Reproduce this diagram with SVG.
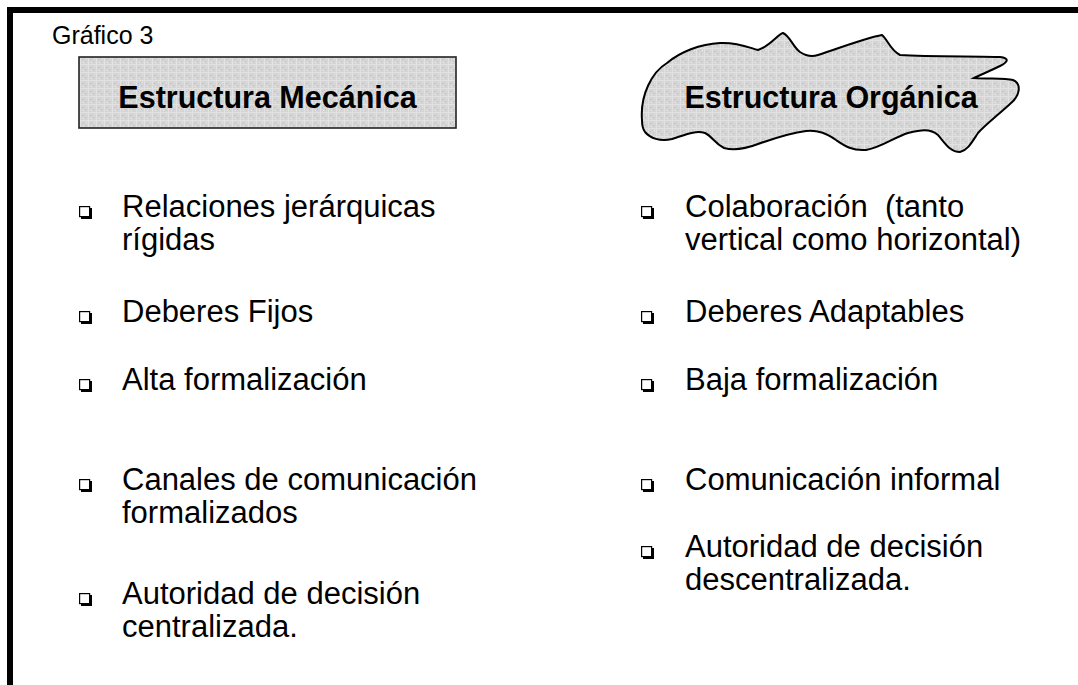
<svg xmlns="http://www.w3.org/2000/svg" width="1078" height="685" viewBox="0 0 1078 685">
<style>
text{font-family:"Liberation Sans",Arial,sans-serif;fill:#000}
.body{font-size:31px}
.title{font-size:30.5px;font-weight:bold}
.small{font-size:25px}
.bul{fill:#fff;stroke:#000;stroke-width:1.2}
.sh{fill:#000}
</style>
<defs>
<pattern id="tex" width="8" height="8" patternUnits="userSpaceOnUse">
<rect width="8" height="8" fill="#d5d5d5"/>
<rect x="0" y="0" width="8" height="1" fill="#e2e2e2"/>
<rect x="0" y="0" width="1" height="8" fill="#e2e2e2"/>
<rect x="2" y="3" width="1" height="1" fill="#bcbcbc"/>
<rect x="5" y="5" width="1" height="1" fill="#c0c0c0"/>
<rect x="6" y="2" width="1" height="1" fill="#ebebeb"/>
<rect x="3" y="6" width="1" height="1" fill="#ebebeb"/>
<rect x="4" y="2" width="1" height="1" fill="#c6c6c6"/>
</pattern>
<g id="bullet">
<rect class="sh" x="2" y="2" width="11" height="11"/>
<rect class="bul" x="0.6" y="0.6" width="10" height="10"/>
</g>
</defs>
<rect x="0" y="0" width="1078" height="685" fill="#fff"/>
<rect x="10" y="10" width="1120" height="720" fill="none" stroke="#000" stroke-width="6"/>
<text class="small" x="52" y="44">Gráfico 3</text>
<g id="mecanica">
<rect x="79" y="57" width="377" height="71" fill="url(#tex)" stroke="#222" stroke-width="1.6"/>
<text class="title" x="267.5" y="108" text-anchor="middle">Estructura Mecánica</text>
</g>
<g id="organica">
<path d="M642,120 C640,95 652,72 667,63 C680,52 700,44 720,43 C738,42 750,48 758,50 C770,46 778,34 783,33 C790,36 793,47 800,52 C806,56 812,57 818,55 C840,48 865,38 882,35 C888,40 890,50 900,55 C930,57 980,56 1000,57 C1010,58 1008,62 1000,66 C990,71 980,75 974,78 C990,79 1005,78 1013,80 C1022,84 1020,96 1010,104 C998,115 985,125 978,133 C972,142 968,150 960,152 C950,152 945,143 938,135 C930,128 920,130 908,133 C895,137 880,148 866,150 C852,151 845,146 836,140 C826,133 818,130 806,131 C790,133 775,138 758,144 C745,149 735,151 724,148 C714,143 712,136 705,133 C695,130 685,135 672,139 C660,142 650,138 645,132 C642,128 642,124 642,120 Z" fill="url(#tex)" stroke="#000" stroke-width="2"/>
<text class="title" x="831" y="108" text-anchor="middle">Estructura Orgánica</text>
</g>
<g id="left-list">
<use href="#bullet" x="79" y="206"/>
<text class="body" x="122" y="217">Relaciones jerárquicas</text>
<text class="body" x="122" y="250">rígidas</text>
<use href="#bullet" x="79" y="311"/>
<text class="body" x="122" y="322">Deberes Fijos</text>
<use href="#bullet" x="79" y="379"/>
<text class="body" x="122" y="390">Alta formalización</text>
<use href="#bullet" x="79" y="479"/>
<text class="body" x="122" y="490">Canales de comunicación</text>
<text class="body" x="122" y="523">formalizados</text>
<use href="#bullet" x="79" y="593"/>
<text class="body" x="122" y="604">Autoridad de decisión</text>
<text class="body" x="122" y="637">centralizada.</text>
</g>
<g id="right-list">
<use href="#bullet" x="641" y="206"/>
<text class="body" x="685" y="217" xml:space="preserve">Colaboración  (tanto</text>
<text class="body" x="685" y="250">vertical como horizontal)</text>
<use href="#bullet" x="641" y="311"/>
<text class="body" x="685" y="322">Deberes Adaptables</text>
<use href="#bullet" x="641" y="379"/>
<text class="body" x="685" y="390">Baja formalización</text>
<use href="#bullet" x="641" y="479"/>
<text class="body" x="685" y="490">Comunicación informal</text>
<use href="#bullet" x="641" y="546"/>
<text class="body" x="685" y="557">Autoridad de decisión</text>
<text class="body" x="685" y="590">descentralizada.</text>
</g>
<g id="connectors"></g>
</svg>
